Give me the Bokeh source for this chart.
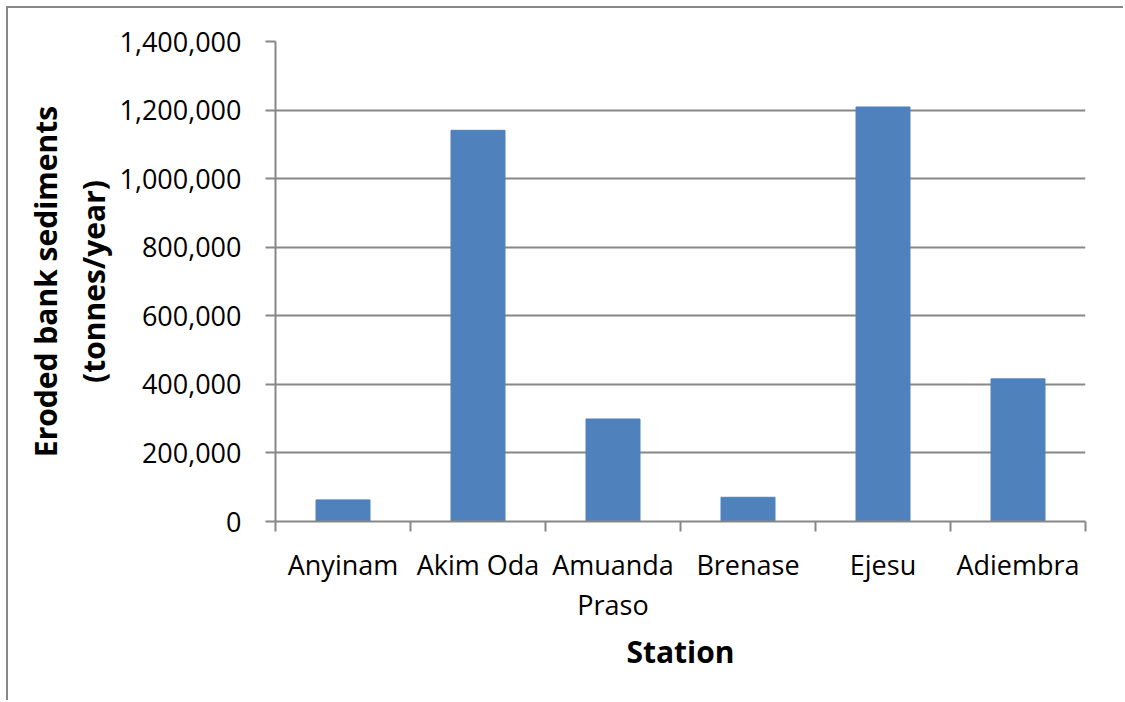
from bokeh.plotting import figure
from bokeh.models import Range1d, FixedTicker, NumeralTickFormatter
from bokeh.embed import file_html
from bokeh.resources import INLINE

stations = ["Anyinam", "Akim Oda", "Amuanda Praso", "Brenase", "Ejesu", "Adiembra"]
station_labels = ["Anyinam", "Akim Oda", "Amuanda\nPraso", "Brenase", "Ejesu", "Adiembra"]
eroded = [63000, 1141000, 299000, 70600, 1209000, 416000]
y_ticks = [0, 200000, 400000, 600000, 800000, 1000000, 1200000, 1400000]

GRAY = "#878787"
BLUE = "#4F81BD"
FONT = "Open Sans"

xs = [i + 0.5 for i in range(len(stations))]
edges = [float(i) for i in range(len(stations) + 1)]

p = figure(width=1117, height=694, output_backend="svg", toolbar_location=None,
           x_range=Range1d(0, len(stations)), y_range=Range1d(0, 1400000),
           min_border_left=267, min_border_right=40, min_border_top=33,
           min_border_bottom=181)
p.styles = {"border-left": f"2px solid {GRAY}", "border-top": f"2px solid {GRAY}",
            "margin-left": "6px", "margin-top": "6px"}
p.outline_line_color = None
p.background_fill_color = "white"
p.border_fill_color = "white"

p.vbar(x=xs, top=eroded, width=0.4, fill_color=BLUE, line_color=BLUE)

# y axis
yax = p.yaxis[0]
yax.ticker = FixedTicker(ticks=y_ticks)
yax.formatter = NumeralTickFormatter(format="0,0")
yax.major_tick_out = 10
yax.major_tick_in = 0
yax.minor_tick_line_color = None
yax.major_tick_line_color = GRAY
yax.major_tick_line_width = 2
yax.axis_line_color = GRAY
yax.axis_line_width = 2
yax.major_label_standoff = 24
yax.major_label_text_font = FONT
yax.major_label_text_font_size = "27px"
yax.major_label_text_color = "black"
yax.axis_label = "Eroded bank sediments\n(tonnes/year)"
yax.axis_label_text_font = FONT
yax.axis_label_text_font_style = "bold"
yax.axis_label_text_font_size = "30px"
yax.axis_label_text_line_height = 1.17
yax.axis_label_text_color = "black"
yax.axis_label_standoff = 2

# x axis
xax = p.xaxis[0]
xax.ticker = FixedTicker(ticks=xs, minor_ticks=edges)
xax.major_label_overrides = {x: lab for x, lab in zip(xs, station_labels)}
xax.major_tick_out = 10
xax.major_tick_in = 0
xax.major_tick_line_color = None
xax.minor_tick_out = 10
xax.minor_tick_in = 0
xax.minor_tick_line_color = GRAY
xax.minor_tick_line_width = 2
xax.axis_line_color = GRAY
xax.axis_line_width = 2
xax.major_label_standoff = 14
xax.major_label_text_font = FONT
xax.major_label_text_font_size = "27px"
xax.major_label_text_line_height = 1.09
xax.major_label_text_color = "black"
xax.axis_label = "Station"
xax.axis_label_text_font = FONT
xax.axis_label_text_font_style = "bold"
xax.axis_label_text_font_size = "30px"
xax.axis_label_text_color = "black"
xax.axis_label_standoff = 5

p.xgrid.grid_line_color = None
p.ygrid.grid_line_color = GRAY
p.ygrid.grid_line_width = 2

open("out.html", "w").write(file_html(p, INLINE))
